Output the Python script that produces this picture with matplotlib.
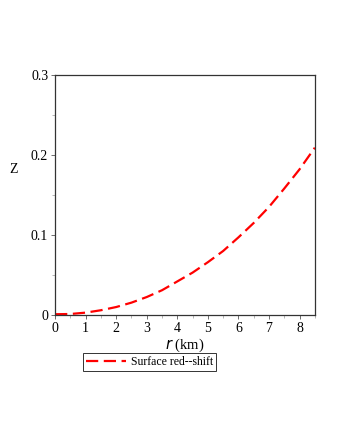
import matplotlib
matplotlib.use("Agg")
import matplotlib.pyplot as plt
from matplotlib.ticker import MultipleLocator

# data
r = [0, 0.5, 1, 1.5, 2, 2.5, 3, 3.5, 4, 4.5, 5, 5.5, 6, 6.5, 7, 7.5, 8, 8.5]
z = [0.001, 0.0013, 0.003, 0.006, 0.0100, 0.0155, 0.0225, 0.031, 0.042, 0.053,
     0.066, 0.080, 0.097, 0.115, 0.135, 0.158, 0.182, 0.209]

plt.rcParams['font.family'] = ['Liberation Serif', 'DejaVu Serif']

fig = plt.figure(figsize=(3.4, 4.4), dpi=100)
ax = fig.add_axes([0.162, 0.284, 0.764, 0.546])

line, = ax.plot(r, z, color='#ff0000', linestyle=(0, (5.5, 2.5)), linewidth=1.6,
                label='Surface red--shift')

ax.set_xlim(0, 8.5)
ax.set_ylim(0, 0.3)
ax.xaxis.set_major_locator(MultipleLocator(1))
ax.xaxis.set_minor_locator(MultipleLocator(0.5))
ax.yaxis.set_major_locator(MultipleLocator(0.1))
ax.yaxis.set_minor_locator(MultipleLocator(0.05))
ax.set_yticks([0, 0.1, 0.2, 0.3], ['0', '0.1', '0.2', '0.3'])
ax.tick_params(axis='both', which='major', labelsize=10, length=3, width=0.6, color='#555555', pad=2)
ax.tick_params(axis='both', which='minor', length=2, width=0.5, color='#999999')
for s in ax.spines.values():
    s.set_color('#333333')
    s.set_linewidth(0.9)

ax.set_xlabel(r'$r$ (km)', fontsize=10.5, labelpad=1)
ax.set_ylabel('Z', fontsize=10, rotation=0, labelpad=14)
ax.yaxis.set_label_coords(-0.16, 0.58)

leg = fig.legend(handles=[line], loc='center', bbox_to_anchor=(0.44, 0.178), fontsize=8.5,
                 frameon=True, fancybox=False, edgecolor='black', handlelength=3.4,
                 borderpad=0.25, handletextpad=0.4, borderaxespad=0)
leg.get_frame().set_linewidth(0.7)

fig.savefig('out.png', dpi=100, facecolor='white')
